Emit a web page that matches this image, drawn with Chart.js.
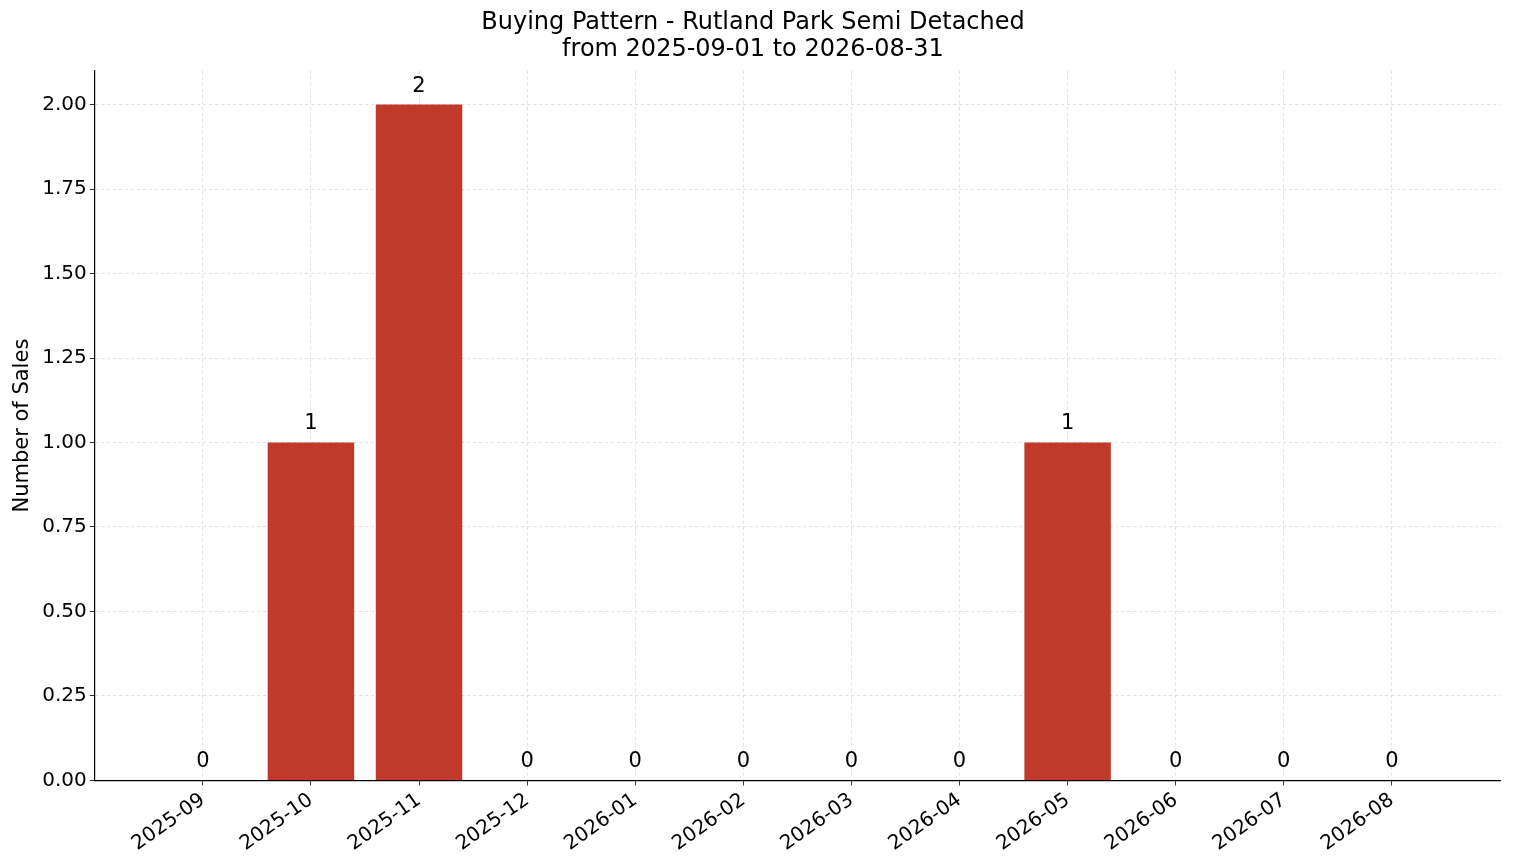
<!DOCTYPE html>
<html>
<head>
<meta charset="utf-8">
<script src="https://cdn.jsdelivr.net/npm/chart.js@4/dist/chart.umd.min.js"></script>
<style>
  body { margin: 0; background: #fff; }
  #wrap { width: 1514px; height: 863px; }
</style>
</head>
<body>
<div id="wrap"><canvas id="c"></canvas></div>
<script>
const months = ['2025-09', '2025-10', '2025-11', '2025-12', '2026-01', '2026-02',
	'2026-03', '2026-04', '2026-05', '2026-06', '2026-07', '2026-08'];
const sales = [0, 1, 2, 0, 0, 0, 0, 0, 1, 0, 0, 0];
const yTicks = [0, 0.25, 0.5, 0.75, 1, 1.25, 1.5, 1.75, 2];

const font = "'DejaVu Sans', sans-serif";

// value labels above each bar
const barLabels = {
	id: 'barLabels',
	afterDatasetsDraw(chart) {
		const ctx = chart.ctx;
		const meta = chart.getDatasetMeta(0);
		ctx.save();
		ctx.fillStyle = '#000';
		ctx.font = `21px ${font}`;
		ctx.textAlign = 'center';
		ctx.textBaseline = 'bottom';
		meta.data.forEach((bar, i) => {
			ctx.fillText(String(sales[i]), bar.x, bar.y - 8);
		});
		ctx.restore();
	}
};

new Chart(document.getElementById('c'), {
	type: 'bar',
	data: {
		datasets: [{
			data: sales.map((v, i) => ({ x: i, y: v })),
			backgroundColor: '#c0392b',
			barPercentage: 1,
			categoryPercentage: 0.8,
		}],
	},
	options: {
		responsive: true,
		maintainAspectRatio: false,
		animation: false,
		layout: { padding: { top: 4, right: 14, left: 6, bottom: 4 } },
		plugins: {
			legend: { display: false },
			tooltip: { enabled: false },
			title: {
				display: true,
				text: ['Buying Pattern - Rutland Park Semi Detached', 'from 2025-09-01 to 2026-08-31'],
				color: '#000',
				font: { family: font, size: 24, weight: 'normal', lineHeight: 1.1 },
				padding: { top: 6, bottom: 8 },
			},
		},
		scales: {
			x: {
				type: 'linear',
				offset: false,
				min: -1,
				max: 12,
				afterBuildTicks: axis => { axis.ticks = months.map((m, i) => ({ value: i })); },
				ticks: {
					autoSkip: false,
					maxRotation: 35,
					minRotation: 35,
					color: '#000',
					font: { family: font, size: 20 },
					callback: v => months[v] ?? '',
				},
				grid: { offset: false, color: '#d9d9d9', lineWidth: 0.8, tickColor: '#000', tickLength: 5 },
				border: { display: true, color: '#000', width: 1.2, dash: [3, 3] },
			},
			y: {
				min: 0,
				max: 2.1,
				afterBuildTicks: axis => { axis.ticks = yTicks.map(v => ({ value: v })); },
				ticks: {
					color: '#000',
					font: { family: font, size: 20 },
					callback: v => v.toFixed(2),
				},
				title: {
					display: true,
					text: 'Number of Sales',
					color: '#000',
					font: { family: font, size: 21 },
				},
				grid: { color: '#d9d9d9', lineWidth: 0.8, tickColor: '#000', tickLength: 5 },
				border: { display: true, color: '#000', width: 1.2, dash: [3, 3] },
			},
		},
	},
	plugins: [barLabels],
});
</script>
</body>
</html>
